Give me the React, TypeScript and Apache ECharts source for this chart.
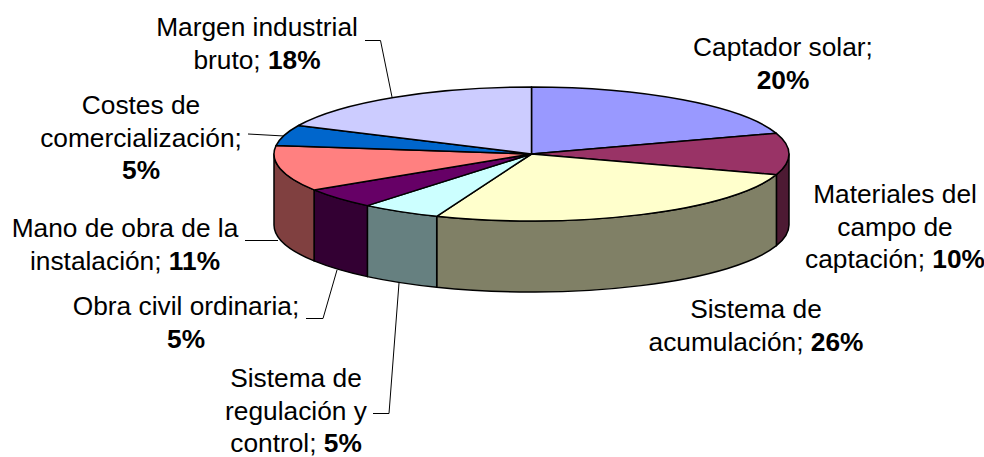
import React, { useEffect, useRef } from "react";
import * as echarts from "echarts";

const categories = [
  "Captador solar",
  "Materiales del campo de captación",
  "Sistema de acumulación",
  "Sistema de regulación y control",
  "Obra civil ordinaria",
  "Mano de obra de la instalación",
  "Costes de comercialización",
  "Margen industrial bruto",
];
const values = [20, 10, 26, 5, 5, 11, 5, 18];
const topColors = ["#9999FF", "#993366", "#FFFFCC", "#CCFFFF", "#660066", "#FF8080", "#0066CC", "#CCCCFF"];
const wallColors = ["#4D4D80", "#4D1A33", "#808066", "#668080", "#330033", "#804040", "#003366", "#666680"];
// Line breaks of each label; the percentage follows the last entry.
const labelLines = [
  ["Captador solar;", ""],
  ["Materiales del", "campo de", "captación; "],
  ["Sistema de", "acumulación; "],
  ["Sistema de", "regulación y", "control; "],
  ["Obra civil ordinaria;", ""],
  ["Mano de obra de la", "instalación; "],
  ["Costes de", "comercialización;", ""],
  ["Margen industrial", "bruto; "],
];
// [centre x, centre y of first line]
const labelAnchors = [
  [783, 47.5],
  [895, 194.5],
  [756, 309.5],
  [296, 378.5],
  [186, 306.5],
  [125, 228.5],
  [141, 105.5],
  [257, 27.5],
];
const leaderLines = [
  [[365, 40.5], [380.5, 40.5], [392, 97]],
  [[248, 134], [284, 136]],
  [[245, 240.5], [278, 240.5]],
  [[306, 318.5], [323, 318.5], [337, 270]],
  [[373, 413.5], [389, 413.5], [399, 283]],
];

const CX = 531.5;
const CY = 154;
const RX = 257.5;
const RY = 67;
const DEPTH = 71;
const FONT = "Liberation Sans, Arial, sans-serif";
const FONT_SIZE = 26.3;
const LINE_H = 32.4;
const total = values.reduce((a, b) => a + b, 0);

const rad = (d: number) => (d * Math.PI) / 180;
const px = (a: number) => CX + RX * Math.sin(rad(a));
const py = (a: number, dy = 0) => CY - RY * Math.cos(rad(a)) + dy;

function sliceAngles(i: number): [number, number] {
  const before = values.slice(0, i).reduce((a, b) => a + b, 0);
  return [(before / total) * 360, ((before + values[i]) / total) * 360];
}

function topPath(a0: number, a1: number) {
  const large = a1 - a0 > 180 ? 1 : 0;
  return `M${CX} ${CY}L${px(a0)} ${py(a0)}A${RX} ${RY} 0 ${large} 1 ${px(a1)} ${py(a1)}Z`;
}

function wallPath(a0: number, a1: number) {
  const s = Math.max(a0, 90);
  const e = Math.min(a1, 270);
  if (e <= s) return "";
  return (
    `M${px(s)} ${py(s)}A${RX} ${RY} 0 0 1 ${px(e)} ${py(e)}` +
    `L${px(e)} ${py(e, DEPTH)}A${RX} ${RY} 0 0 0 ${px(s)} ${py(s, DEPTH)}Z`
  );
}

function labelText(i: number) {
  const lines = labelLines[i];
  const head = lines.slice(0, -1).map((l) => `{n|${l}}`);
  const last = lines[lines.length - 1];
  const pct = `{b|${values[i]}%}`;
  head.push(last ? `{n|${last}}${pct}` : pct);
  return head.join("\n");
}

export default function App() {
  const ref = useRef<HTMLDivElement>(null);
  useEffect(() => {
    document.body.style.margin = "0";
    const chart = echarts.init(ref.current!, null, { renderer: "svg" });
    const lineStyle = { stroke: "#000", lineWidth: 1.5, lineJoin: "round" };
    chart.setOption({
      animation: false,
      backgroundColor: "#fff",
      series: [
        {
          type: "custom",
          coordinateSystem: "none",
          silent: true,
          data: values,
          renderItem: (p: any) => {
            const [a0, a1] = sliceAngles(p.dataIndex);
            const d = wallPath(a0, a1);
            if (!d) return null;
            return {
              type: "path",
              shape: { pathData: d },
              style: { fill: wallColors[p.dataIndex], ...lineStyle },
            };
          },
        },
        {
          type: "custom",
          coordinateSystem: "none",
          silent: true,
          data: values,
          renderItem: (p: any) => {
            const [a0, a1] = sliceAngles(p.dataIndex);
            return {
              type: "path",
              shape: { pathData: topPath(a0, a1) },
              style: { fill: topColors[p.dataIndex], ...lineStyle },
            };
          },
        },
      ],
      graphic: [
        ...leaderLines.map((pts) => ({
          type: "polyline",
          silent: true,
          shape: { points: pts },
          style: { stroke: "#000", lineWidth: 1, fill: "none" },
        })),
        ...categories.map((_, i) => ({
          type: "text",
          silent: true,
          x: labelAnchors[i][0],
          y: labelAnchors[i][1] - LINE_H / 2,
          style: {
            text: labelText(i),
            align: "center",
            verticalAlign: "top",
            rich: {
              n: { fontFamily: FONT, fontSize: FONT_SIZE, lineHeight: LINE_H, fill: "#000" },
              b: { fontFamily: FONT, fontSize: FONT_SIZE, lineHeight: LINE_H, fontWeight: "bold", fill: "#000" },
            },
          },
        })),
      ],
    });
    return () => chart.dispose();
  }, []);
  return <div ref={ref} style={{ width: 984, height: 457 }} />;
}
